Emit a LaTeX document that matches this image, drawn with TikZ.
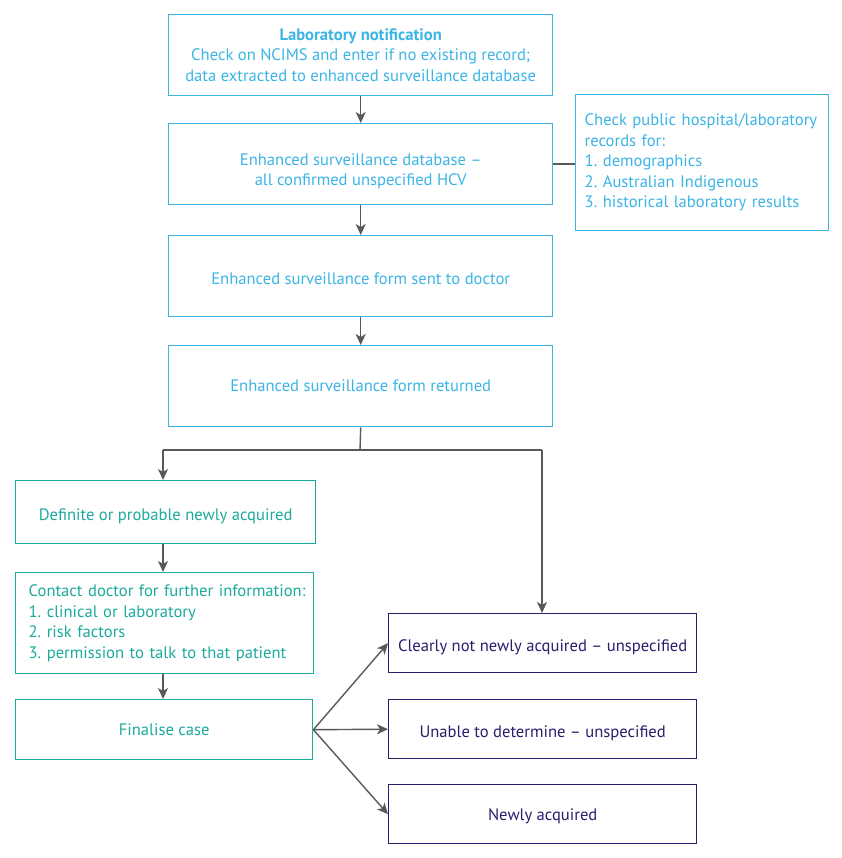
\documentclass[tikz,border=0pt]{standalone}
\usepackage{fontspec}
\setmainfont{PT Sans}
\usetikzlibrary{arrows.meta,positioning}
\definecolor{cblue}{HTML}{3BB4E6}
\definecolor{cteal}{HTML}{1BAA9C}
\definecolor{cpurple}{HTML}{2D1B6B}
\definecolor{cgray}{HTML}{58595B}
\frenchspacing
\newcommand{\lowerby}[1]{\rule{0pt}{#1}}
\begin{document}
\begin{tikzpicture}[x=1pt,y=-1pt,
  box/.style={draw,line width=1.4pt,inner sep=0pt,anchor=north west,font=\fontsize{16.6}{20.5}\selectfont},
  bluebox/.style={box,draw=cblue,text=cblue},
  tealbox/.style={box,draw=cteal,text=cteal},
  purplebox/.style={box,draw=cpurple,text=cpurple},
  conn/.style={draw=cgray,line width=1.4pt},
  arr/.style={conn,-{Stealth[length=11pt,width=10pt,inset=3pt]}}]
\useasboundingbox (0,0) rectangle (841,858);
\node[bluebox,minimum width=384pt,minimum height=81pt,align=center] (lab) at (168,14)
  {\textbf{Laboratory notification}\\Check on NCIMS and enter if no existing record;\\data extracted to enhanced surveillance database};
\node[bluebox,minimum width=384pt,minimum height=81pt,align=center] (db) at (168,123)
  {\lowerby{26pt}Enhanced surveillance database --\\all confirmed unspecified HCV};
\node[bluebox,minimum width=253pt,minimum height=136pt,align=left,text width=235pt,inner xsep=9pt] (chk) at (575,94)
  {Check public hospital/laboratory\\records for:\\1. demographics\\2. Australian Indigenous\\3. historical laboratory results};
\node[bluebox,minimum width=384pt,minimum height=81pt,align=center] (sent) at (168,235)
  {\lowerby{16pt}Enhanced surveillance form sent to doctor};
\node[bluebox,minimum width=384pt,minimum height=81pt,align=center] (ret) at (168,345)
  {Enhanced surveillance form returned};
\node[tealbox,minimum width=300pt,minimum height=63pt,align=center] (def) at (15,480)
  {\lowerby{19pt}Definite or probable newly acquired};
\node[tealbox,minimum width=298pt,minimum height=101pt,align=left,text width=282pt,inner xsep=8pt] (con) at (15,572)
  {\hspace*{5pt}Contact doctor for further information:\\\hspace*{5pt}1. clinical or laboratory\\\hspace*{5pt}2. risk factors\\\hspace*{5pt}3. permission to talk to that patient};
\node[tealbox,minimum width=297pt,minimum height=60pt,align=center] (fin) at (15,699)
  {Finalise case};
\node[purplebox,minimum width=308pt,minimum height=59pt,align=center] (clr) at (388,613)
  {\lowerby{19pt}Clearly not newly acquired -- unspecified};
\node[purplebox,minimum width=308pt,minimum height=59pt,align=center] (una) at (388,699)
  {\lowerby{19pt}Unable to determine -- unspecified};
\node[purplebox,minimum width=308pt,minimum height=59pt,align=center] (new) at (388,784)
  {\lowerby{15pt}Newly acquired};
\coordinate (split) at (360,450);
\coordinate (sl) at (163,450);
\coordinate (sr) at (542,450);
\draw[arr] (lab.south) -- (db.north);
\draw[conn] (db.east) -- (chk.west |- db.east);
\draw[arr] (db.south) -- (sent.north);
\draw[arr] (sent.south) -- (ret.north);
\draw[conn] (ret.south) -- (split);
\draw[conn] (sl) -- (sr);
\draw[arr] (sl) -- (def.north -| sl);
\draw[arr] (sr) -- (clr.north -| sr);
\draw[arr] (def.south -| sl) -- (con.north -| sl);
\draw[arr] (con.south -| sl) -- (fin.north -| sl);
\draw[arr] (fin.east) -- (clr.west);
\draw[arr] (fin.east) -- (una.west);
\draw[arr] (fin.east) -- (new.west);
\end{tikzpicture}
\end{document}
